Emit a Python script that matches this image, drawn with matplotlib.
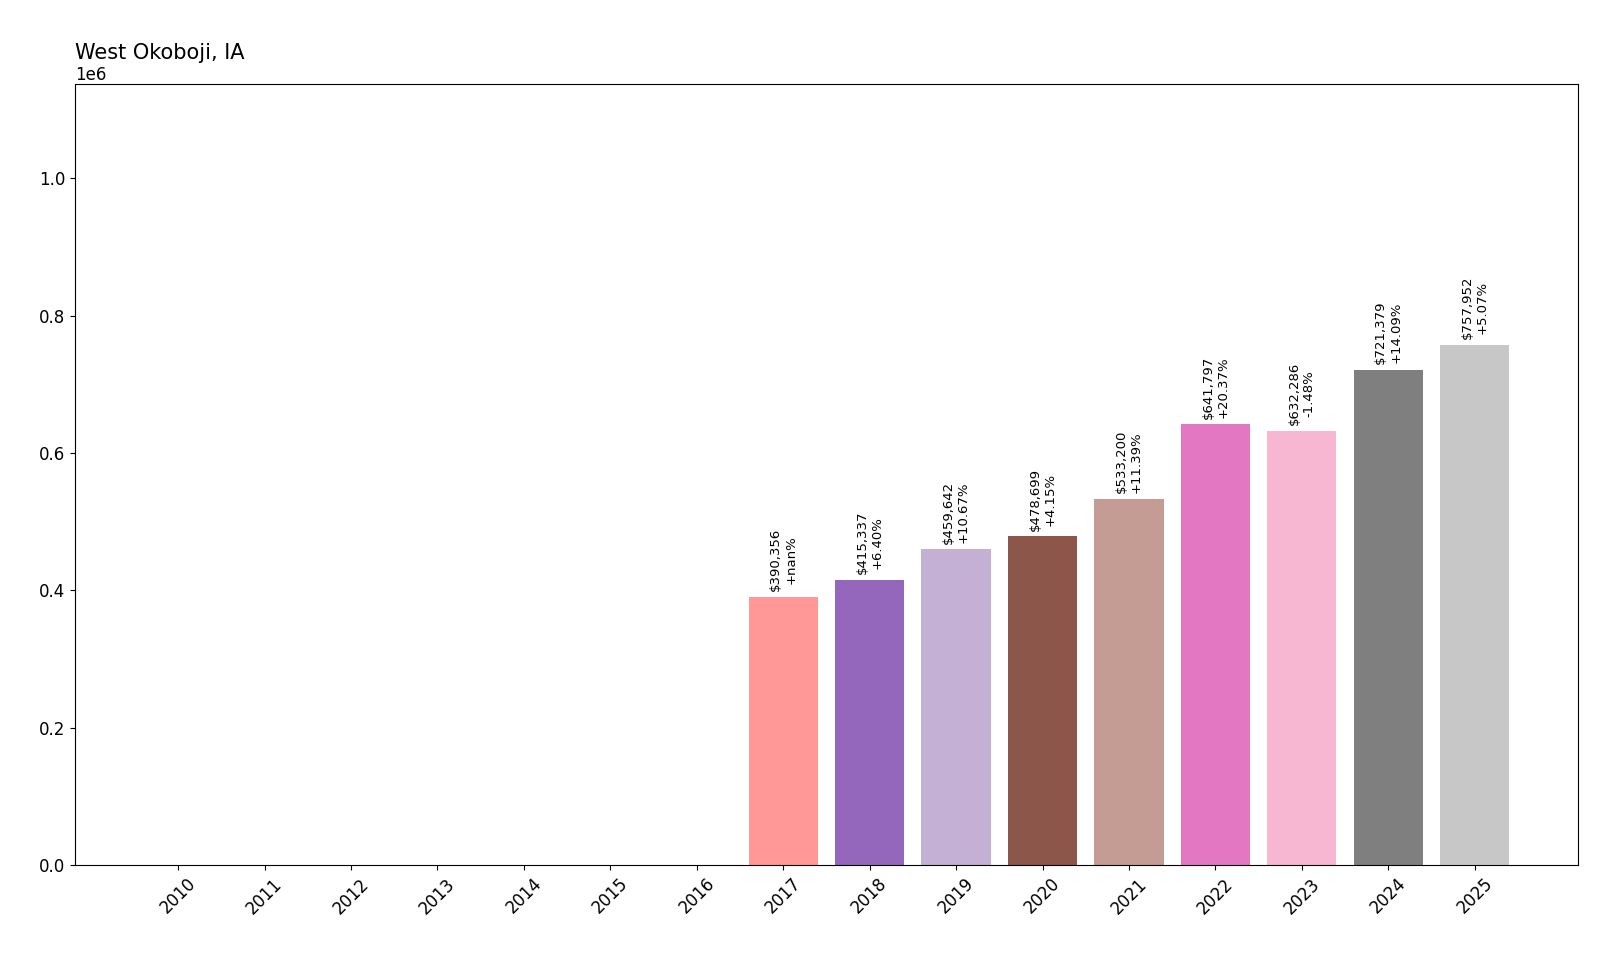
import matplotlib
matplotlib.use("Agg")
import matplotlib.pyplot as plt
import numpy as np

years = list(range(2010, 2026))
values = [np.nan]*7 + [390356, 415337, 459642, 478699, 533200, 641797, 632286, 721379, 757952]
changes = ["+nan%", "+6.40%", "+10.67%", "+4.15%", "+11.39%", "+20.37%", "-1.48%", "+14.09%", "+5.07%"]

fig, ax = plt.subplots(figsize=(16, 9.6), dpi=100)
fig.subplots_adjust(left=0.047, right=0.986, top=0.912, bottom=0.099)
colors = [plt.cm.tab20(i) for i in range(len(years))]
vals = [0 if np.isnan(v) else v for v in values]
ax.bar([str(y) for y in years], vals, color=colors)
j = 0
for i, v in enumerate(values):
    if not np.isnan(v):
        ax.text(i, v + 8000, f"${v:,.0f}\n{changes[j]}", rotation=90, ha="center", va="bottom", fontsize=9.5)
        j += 1
ax.set_ylim(0, np.nanmax(values) * 1.5)
ax.set_title("West Okoboji, IA", loc="left", fontsize=15, pad=18)
plt.setp(ax.get_xticklabels(), rotation=45)
ax.tick_params(labelsize=12)
ax.yaxis.get_offset_text().set_fontsize(12)
fig.savefig("out.png")
